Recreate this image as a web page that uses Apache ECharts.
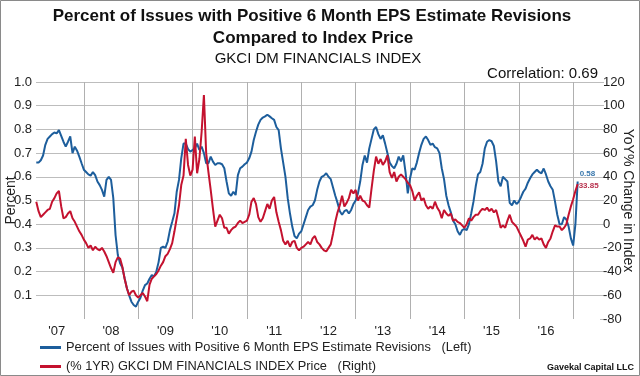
<!DOCTYPE html>
<html><head><meta charset="utf-8">
<script src="https://cdn.jsdelivr.net/npm/echarts@6/dist/echarts.min.js"></script>
<style>html,body{margin:0;padding:0;background:#fff}#c{width:640px;height:376px}</style>
</head><body><div id="c"></div>
<script>
// x positions: semi-monthly observations starting mid-Feb 2007 (decimal years)
const startYear = 2007.125;
const stepYears = 1 / 24;
const yearTicks = [2008, 2009, 2010, 2011, 2012, 2013, 2014, 2015, 2016, 2017];
const yearLabelPos = [2007.5, 2008.5, 2009.5, 2010.5, 2011.5, 2012.5, 2013.5, 2014.5, 2015.5, 2016.5];

// Percent of issues with positive 6M EPS revisions (left axis)
const pctPositive = [
0.66,0.66,0.67,0.69,0.735,0.76,0.77,0.78,0.787,0.783,0.797,0.773,0.748,0.727,0.748,0.77,0.70,0.727,0.71,0.685,0.657,0.63,0.62,0.61,
0.605,0.62,0.607,0.58,0.565,0.545,0.516,0.587,0.60,0.587,0.51,0.354,0.27,0.235,0.217,0.172,0.13,0.10,0.073,0.059,0.052,0.073,0.09,0.12,
0.143,0.15,0.17,0.185,0.18,0.20,0.24,0.30,0.305,0.30,0.326,0.375,0.41,0.446,0.537,0.587,0.678,0.74,0.74,0.717,0.706,0.713,0.72,0.74,
0.713,0.727,0.70,0.657,0.657,0.685,0.664,0.65,0.657,0.657,0.653,0.636,0.58,0.53,0.52,0.537,0.523,0.607,0.636,0.643,0.653,0.66,0.678,0.706,
0.755,0.79,0.82,0.84,0.85,0.855,0.862,0.855,0.847,0.84,0.81,0.797,0.72,0.66,0.60,0.51,0.445,0.39,0.35,0.34,0.36,0.37,0.40,0.43,
0.46,0.474,0.48,0.50,0.545,0.58,0.60,0.605,0.615,0.60,0.59,0.555,0.52,0.49,0.455,0.44,0.455,0.46,0.445,0.46,0.485,0.50,0.53,0.58,
0.65,0.69,0.66,0.72,0.76,0.80,0.81,0.78,0.76,0.775,0.74,0.70,0.66,0.645,0.636,0.655,0.685,0.665,0.69,0.62,0.53,0.594,0.636,0.63,
0.66,0.70,0.735,0.76,0.77,0.755,0.735,0.74,0.725,0.72,0.70,0.636,0.59,0.52,0.48,0.45,0.415,0.40,0.37,0.355,0.375,0.38,0.375,0.40,
0.445,0.495,0.56,0.61,0.62,0.655,0.72,0.748,0.755,0.75,0.73,0.665,0.58,0.56,0.60,0.59,0.58,0.49,0.48,0.50,0.485,0.495,0.515,0.537,
0.55,0.575,0.594,0.61,0.62,0.63,0.62,0.615,0.635,0.61,0.58,0.56,0.545,0.495,0.44,0.40,0.40,0.43,0.42,0.39,0.34,0.31,0.40,0.58
];

// (% 1YR) GKCI DM Financials Index price change (right axis)
const indexYoY = [
19,11,6,8,10,12,13,19,22,26,28,15,5,6,9,11,5,2,-2,-6,-9,-13,-16,-20,
-18,-22,-19,-21,-22,-20,-23,-27,-32,-37,-41,-32,-28,-29,-36,-46,-54,-60,-57,-56,-60,-62,-60,-58,
-61,-65,-51,-46,-44,-42,-39,-35,-32,-27,-25,-21,-16,-6,5,16,33,41,72,50,41,46,74,43,
55,78,109,60,44,29,13,-2,3,8,5,-3,-3,-8,-5,-3,-2,1,3,1,2,3,8,19,
22,17,6,2,5,11,17,13,20,23,10,2,-5,-14,-17,-14,-19,-15,-14,-20,-22,-20,-19,-17,
-15,-17,-12,-10,-15,-17,-20,-22,-23,-20,-17,-8,2,10,16,24,15,18,22,29,26,29,20,24,
20,19,16,14,30,45,57,51,55,50,53,58,44,39,44,36,40,42,40,38,35,33,28,20,
24,27,20,22,16,13,15,13,19,14,11,5,12,9,7,9,3,4,2,1,-1,-3,0,5,
3,6,8,8,11,13,12,14,11,13,10,12,5,-3,-1,-3,3,8,2,0,-2,-6,-10,-14,
-19,-13,-12,-9,-13,-11,-13,-12,-17,-20,-15,-12,-6,-1,-2,-2,-5,-3,0,8,15,21,28,33.85
];

const leftTicks = [0.1,0.2,0.3,0.4,0.5,0.6,0.7,0.8,0.9,1.0];
const rightTicks = [-80,-60,-40,-20,0,20,40,60,80,100,120];

const blue = '#1d5e9c';
const red = '#c4122f';
const FONT = '"Liberation Sans", Arial, sans-serif';
const nameBlue = 'Percent of Issues with Positive 6 Month EPS Estimate Revisions   (Left)';
const nameRed = '(% 1YR) GKCI DM FINANCIALS INDEX Price   (Right)';

const xs = pctPositive.map((_, i) => startYear + i * stepYears);
const blueData = pctPositive.map((v, i) => [xs[i], v]);
const redData = indexYoY.map((v, i) => [xs[i], v]);

const gridColors = ['rgba(0,0,0,0)'].concat(leftTicks.map(() => '#bdbdbd'));
const legendBase = {
  orient: 'vertical', left: 35, itemGap: 4,
  itemWidth: 21, itemHeight: 3, icon: 'rect',
  textStyle: {fontSize: 12.8, color: '#222', fontFamily: FONT}
};

const chart = echarts.init(document.getElementById('c'), null, {renderer: 'canvas'});
chart.setOption({
  animation: false,
  backgroundColor: '#fff',
  textStyle: {fontFamily: FONT},
  grid: {left: 36, right: 40, top: 82, bottom: 57, containLabel: false, outerBoundsMode: 'none'},
  legend: [
    Object.assign({}, legendBase, {top: 336, data: [{name: nameBlue}]}),
    Object.assign({}, legendBase, {top: 355, data: [{name: nameRed}]})
  ],
  xAxis: {
    type: 'value', min: 2007.12, max: 2017.494,
    axisLine: {show: false},
    axisTick: {show: false, customValues: yearTicks},
    splitLine: {show: true, lineStyle: {color: '#b0b0b0', width: 1}},
    axisLabel: {
      customValues: yearLabelPos, fontSize: 13, color: '#222', margin: 6,
      formatter: v => "'" + String(Math.floor(v)).slice(2)
    }
  },
  yAxis: [
    {
      type: 'value', min: 0, max: 1, interval: 0.1, position: 'left',
      name: 'Percent', nameLocation: 'middle', nameGap: 18, nameRotate: 90,
      nameMoveOverlap: false,
      nameTextStyle: {fontSize: 14, color: '#222'},
      axisLine: {show: false},
      axisTick: {show: false},
      axisLabel: {fontSize: 13, color: '#222', margin: 4,
        formatter: v => (Math.abs(v) < 1e-9 ? '' : v.toFixed(1))},
      splitLine: {show: true, lineStyle: {color: gridColors, width: 1}}
    },
    {
      type: 'value', min: -80, max: 120, interval: 20, position: 'right',
      name: 'YoY% Change in Index', nameLocation: 'middle', nameGap: 21, nameRotate: -90,
      nameMoveOverlap: false,
      nameTextStyle: {fontSize: 14, color: '#222'},
      axisLine: {show: false},
      axisTick: {show: true, length: 4, inside: false, lineStyle: {color: '#bdbdbd'}},
      axisLabel: {fontSize: 13, color: '#222', margin: 3},
      splitLine: {show: false}
    }
  ],
  series: [
    {
      name: nameBlue,
      type: 'line', yAxisIndex: 0, data: blueData, showSymbol: false,
      color: blue, lineStyle: {color: blue, width: 2}, z: 3,
      endLabel: {show: true, formatter: p => p.value[1].toFixed(2), color: '#3a78ad',
        fontSize: 8, fontWeight: 'bold', distance: 2, offset: [0, -8]}
    },
    {
      name: nameRed,
      type: 'line', yAxisIndex: 1, data: redData, showSymbol: false,
      color: red, lineStyle: {color: red, width: 2}, z: 4,
      endLabel: {show: true, formatter: p => p.value[1].toFixed(2), color: '#b8324e',
        fontSize: 8, fontWeight: 'bold', distance: 1, offset: [0, 2]}
    }
  ],
  graphic: [
    {type: 'rect', shape: {x: 0.5, y: 0.5, width: 639, height: 375}, style: {fill: 'none', stroke: '#8a8a8a', lineWidth: 1}, silent: true},
    {type: 'text', x: 312, y: 16, style: {text: 'Percent of Issues with Positive 6 Month EPS Estimate Revisions', font: 'bold 17px ' + FONT, fill: '#111', align: 'center', verticalAlign: 'middle', textAlign: 'center', textVerticalAlign: 'middle'}},
    {type: 'text', x: 313, y: 38, style: {text: 'Compared to Index Price', font: 'bold 17px ' + FONT, fill: '#111', align: 'center', verticalAlign: 'middle', textAlign: 'center', textVerticalAlign: 'middle'}},
    {type: 'text', x: 318, y: 59, style: {text: 'GKCI DM FINANCIALS INDEX', font: '15px ' + FONT, fill: '#111', align: 'center', verticalAlign: 'middle', textAlign: 'center', textVerticalAlign: 'middle'}},
    {type: 'text', x: 598, y: 74, style: {text: 'Correlation: 0.69', font: '15px ' + FONT, fill: '#111', align: 'right', verticalAlign: 'middle', textAlign: 'right', textVerticalAlign: 'middle'}},
    {type: 'text', x: 634, y: 368, style: {text: 'Gavekal Capital LLC', font: 'bold 9px ' + FONT, fill: '#111', align: 'right', verticalAlign: 'middle', textAlign: 'right', textVerticalAlign: 'middle'}}
  ]
});
</script></body></html>
